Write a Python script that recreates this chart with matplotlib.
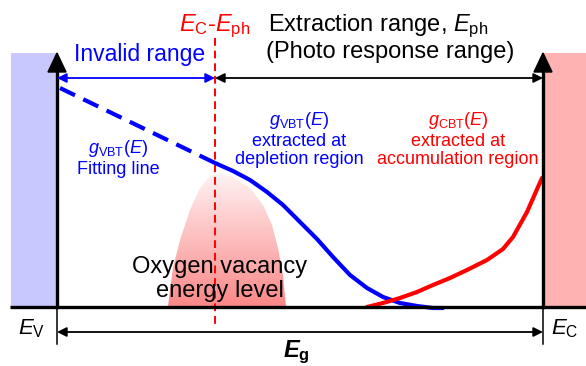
import matplotlib
matplotlib.use("Agg")
import matplotlib.pyplot as plt
import numpy as np
from matplotlib.patches import Polygon, Rectangle

plt.rcParams['font.family'] = ['Liberation Sans', 'DejaVu Sans']
plt.rcParams['mathtext.fontset'] = 'custom'
plt.rcParams['mathtext.rm'] = 'Liberation Sans'
plt.rcParams['mathtext.it'] = 'Liberation Sans:italic'
plt.rcParams['mathtext.bf'] = 'Liberation Sans:bold'
plt.rcParams['mathtext.bfit'] = 'Liberation Sans:italic:bold'

# band diagram landmarks (pixel coordinates, y grows downward)
x_ev, x_ec, x_cut = 57, 543, 215
y_base, y_top = 307, 53

# g_VBT fitting line (dashed) and extracted part (solid)
fit_x = [60, 215]
fit_y = [88, 163]
vbt_x = [215, 233, 250, 267, 283, 300, 317, 333, 350, 367, 383, 400, 417, 433, 443]
vbt_y = [163, 171, 180, 192, 205, 222, 239, 257, 275, 288, 297, 303, 306, 308, 308]

# g_CBT extracted at accumulation
cbt_x = [367, 383, 400, 417, 433, 450, 467, 487, 503, 513, 527, 542]
cbt_y = [307, 303, 298, 292, 285, 278, 270, 260, 249, 237, 212, 178]

# oxygen vacancy level outline
dome_x = [168, 170, 173, 180, 190, 200, 210, 220, 233, 250, 263, 272, 278, 283, 286]
dome_y = [307, 290, 268, 240, 210, 188, 176, 173, 177, 188, 205, 225, 248, 275, 307]

fig = plt.figure(figsize=(5.86, 3.66), dpi=100)
ax = fig.add_axes([0, 0, 1, 1])
ax.set_xlim(0, 586)
ax.set_ylim(366, 0)
ax.axis('off')

# valence / conduction band blocks
ax.add_patch(Rectangle((11, y_top), x_ev - 11, y_base - y_top, color='#c8c8ff', lw=0, zorder=1))
ax.add_patch(Rectangle((x_ec, y_top), 586 - x_ec, y_base - y_top, color='#ffb2b2', lw=0, zorder=1))

# gradient-filled defect level
dome = Polygon(list(zip(dome_x, dome_y)), closed=True, facecolor='none', edgecolor='none')
ax.add_patch(dome)
grad = np.linspace(0, 1, 200)[:, None]
top_c = np.array([1.0, 0.95, 0.95])
bot_c = np.array([0.98, 0.53, 0.53])
img = top_c[None, None, :] * (1 - grad[:, :, None]) + bot_c[None, None, :] * grad[:, :, None]
im = ax.imshow(img, extent=(min(dome_x), max(dome_x), max(dome_y), min(dome_y)),
               origin='upper', aspect='auto', zorder=2)
im.set_clip_path(dome)
ax.set_xlim(0, 586)
ax.set_ylim(366, 0)

# axes
ax.plot([10, 586], [y_base, y_base], color='black', lw=2.4, zorder=5, solid_capstyle='butt')
for xa in (x_ev, x_ec):
    ax.plot([xa, xa], [y_base, 70], color='black', lw=2.4, zorder=5)
    ax.add_patch(Polygon([(xa, y_top), (xa - 9, 72), (xa + 9, 72)], closed=True,
                         color='black', zorder=6))
    ax.plot([xa, xa], [y_base, 344], color='black', lw=1.1, zorder=5)

# curves
ax.plot(fit_x, fit_y, color='#0000ff', lw=3, dashes=(4, 2.2), zorder=4)
ax.plot(vbt_x, vbt_y, color='#0000ff', lw=3, zorder=4,
        solid_capstyle='round', solid_joinstyle='round')
ax.plot(cbt_x, cbt_y, color='#ff0000', lw=3, zorder=4,
        solid_capstyle='round', solid_joinstyle='round')

# cut-off line
ax.plot([x_cut, x_cut], [38, 328], color='#ff0000', lw=1.4, dashes=(4, 2.5), zorder=3)

# range arrows
def darrow(x0, x1, y, color):
    ax.annotate('', xy=(x1, y), xytext=(x0, y),
                arrowprops=dict(arrowstyle='<|-|>', color=color, lw=1.3,
                                mutation_scale=14, shrinkA=0, shrinkB=0), zorder=6)

darrow(x_ev, x_cut, 78, '#0000ff')
darrow(x_cut, x_ec, 78, 'black')
darrow(x_ev, x_ec, 332, 'black')

# labels
ax.text(x_cut, 26, r'$E_{\mathrm{C}}$-$E_{\mathrm{ph}}$', color='#ff0000', fontsize=17,
        ha='center', va='center')
ax.text(378, 26, r'Extraction range, $E_{\mathrm{ph}}$', fontsize=17, ha='center', va='center')
ax.text(390, 52, '(Photo response range)', fontsize=17, ha='center', va='center')
ax.text(140, 54, 'Invalid range', color='#0000ff', fontsize=16.5, ha='center', va='center')

ax.text(118, 158, r'$g_{\mathrm{VBT}}(E)$' + '\nFitting line', color='#0000ff', fontsize=13,
        ha='center', va='center', linespacing=1.15)
ax.text(299, 139, r'$g_{\mathrm{VBT}}(E)$' + '\nextracted at\ndepletion region', color='#0000ff',
        fontsize=13, ha='center', va='center', linespacing=1.15)
ax.text(458, 139, r'$g_{\mathrm{CBT}}(E)$' + '\nextracted at\naccumulation region', color='#ff0000',
        fontsize=13, ha='center', va='center', linespacing=1.15)

ax.text(220, 279, 'Oxygen vacancy\nenergy level', fontsize=17, ha='center', va='center',
        linespacing=1.1, zorder=7)

ax.text(32, 329, r'$E_{\mathrm{V}}$', fontsize=16, ha='center', va='center')
ax.text(565, 329, r'$E_{\mathrm{C}}$', fontsize=16, ha='center', va='center')
ax.text(296, 352, r'$\boldsymbol{E}_{\mathbf{g}}$', fontsize=17, ha='center', va='center')

fig.savefig('out.png', dpi=100)
